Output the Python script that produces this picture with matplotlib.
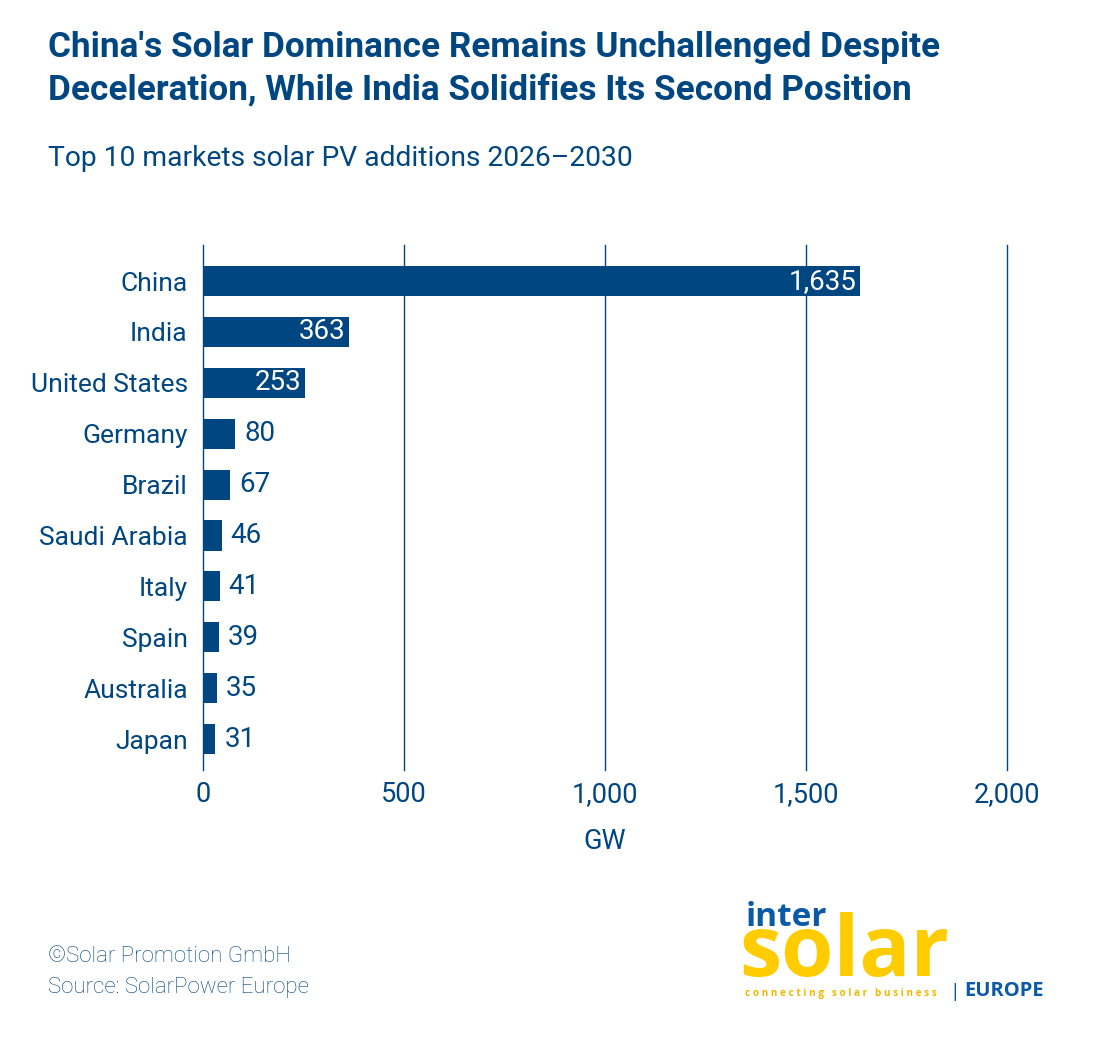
import matplotlib
matplotlib.use("Agg")
import matplotlib.pyplot as plt
from matplotlib.ticker import FuncFormatter

countries = ["China", "India", "United States", "Germany", "Brazil",
             "Saudi Arabia", "Italy", "Spain", "Australia", "Japan"]
values = [1635, 363, 253, 80, 67, 46, 41, 39, 35, 31]
xticks = [0, 500, 1000, 1500, 2000]
inside_labels = {"China", "India", "United States"}

BLUE = "#004680"
YELLOW = "#FFCC00"
FONT = "Roboto"

plt.rcParams['font.family'] = [FONT, 'DejaVu Sans']

fig = plt.figure(figsize=(11.1, 10.55), dpi=100)
ax = fig.add_axes([0.1829, 0.2701, 0.7243, 0.4977])

y = list(range(len(countries)))
ax.barh(y, values, height=0.59, color=BLUE, zorder=3)
ax.set_ylim(9.61, -0.71)
ax.set_xlim(0, 2000)
ax.set_xticks(xticks)
ax.xaxis.set_major_formatter(FuncFormatter(lambda v, p: f"{int(v):,}"))
ax.set_yticks(y)
ax.set_yticklabels(countries)
ax.tick_params(axis='both', length=0, labelsize=19.5, colors=BLUE, labelcolor=BLUE)
ax.tick_params(axis='x', pad=8)
ax.tick_params(axis='y', labelsize=19, pad=11)
for s in ax.spines.values():
    s.set_visible(False)
for t in xticks:
    ax.axvline(t, color=BLUE, linewidth=1.0, zorder=0, clip_on=False)
ax.set_xlabel("GW", fontsize=19.5, color=BLUE, labelpad=14)

for yi, (c, v) in enumerate(zip(countries, values)):
    if c in inside_labels:
        ax.text(v - 8, yi, f"{v:,}", ha='right', va='center', color='white',
                fontsize=20, zorder=4)
    else:
        ax.text(v + 22, yi, f"{v:,}", ha='left', va='center', color=BLUE,
                fontsize=20, zorder=4)

fig.text(48/1110, 1 - 47/1055, "China's Solar Dominance Remains Unchallenged Despite",
         fontsize=25.3, fontweight='bold', color=BLUE, ha='left', va='center')
fig.text(48/1110, 1 - 90/1055, "Deceleration, While India Solidifies Its Second Position",
         fontsize=25.3, fontweight='bold', color=BLUE, ha='left', va='center')
fig.text(48/1110, 1 - 158/1055, "Top 10 markets solar PV additions 2026\u20132030",
         fontsize=20.3, color=BLUE, ha='left', va='center')

fig.text(48/1110, 1 - 957/1055, "\u00a9Solar Promotion GmbH", fontsize=16,
         fontweight='light', color=BLUE, ha='left', va='center')
fig.text(48/1110, 1 - 987/1055, "Source: SolarPower Europe", fontsize=16,
         fontweight='light', color=BLUE, ha='left', va='center')

# logo
fig.text(746/1110, 1 - 926/1055, "inter", fontsize=24, fontweight='bold',
         color="#0A5AA8", ha='left', va='baseline', family='Open Sans')
fig.text(739/1110, 1 - 976/1055, "solar", fontsize=61, fontweight='bold',
         color=YELLOW, ha='left', va='baseline', family='Open Sans')
fig.text(745/1110, 1 - 996/1055, "c o n n e c t i n g   s o l a r   b u s i n e s s",
         fontsize=7.2, fontweight='bold', color="#F2B800", ha='left', va='baseline',
         family='Open Sans')
fig.text(949/1110, 1 - 997/1055, "|", fontsize=14, color="#0A5AA8",
         ha='left', va='baseline', family='Open Sans')
fig.text(964/1110, 1 - 996/1055, "EUROPE", fontsize=14.5, fontweight='bold',
         color="#0A5AA8", ha='left', va='baseline', family='Open Sans')

fig.savefig("out.png", dpi=100, facecolor='white')
